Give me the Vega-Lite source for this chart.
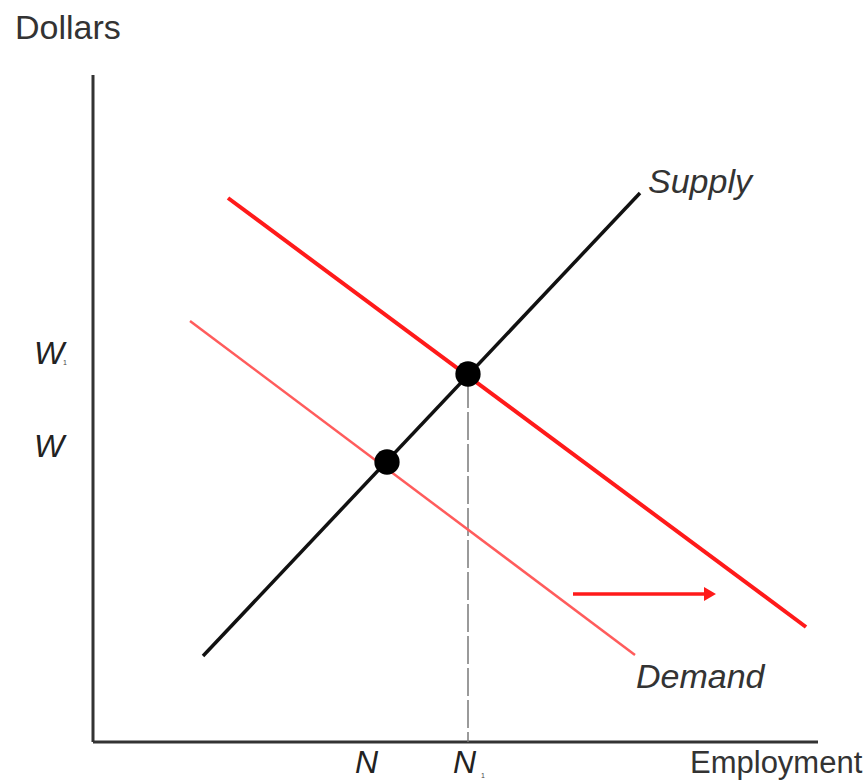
{
  "$schema": "https://vega.github.io/schema/vega-lite/v6.json",
  "width": 868,
  "height": 782,
  "padding": 0,
  "autosize": {"type": "fit", "contains": "padding"},
  "background": "white",
  "config": {"view": {"stroke": null}},
  "encoding": {
    "x": {"field": "x", "type": "quantitative", "scale": {"domain": [0, 868], "nice": false, "zero": false}, "axis": null},
    "y": {"field": "y", "type": "quantitative", "scale": {"domain": [0, 782], "nice": false, "zero": false, "reverse": true}, "axis": null}
  },
  "layer": [
    {
      "data": {"values": [
        {"name": "dollars axis", "x": 93, "y": 75, "x2": 93, "y2": 742},
        {"name": "employment axis", "x": 93, "y": 742, "x2": 818, "y2": 742}
      ]},
      "mark": {"type": "rule", "color": "#333333", "strokeWidth": 3},
      "encoding": {"x2": {"field": "x2"}, "y2": {"field": "y2"}}
    },
    {
      "data": {"values": [
        {"name": "N1 guide", "x": 468, "y": 380, "x2": 468, "y2": 742}
      ]},
      "mark": {"type": "rule", "color": "#7a7a7a", "strokeWidth": 1.5, "strokeDash": [28, 4]},
      "encoding": {"x2": {"field": "x2"}, "y2": {"field": "y2"}}
    },
    {
      "data": {"values": [
        {"name": "Demand", "x": 190, "y": 321, "x2": 635, "y2": 655}
      ]},
      "mark": {"type": "rule", "color": "#ff5c5c", "strokeWidth": 2.5},
      "encoding": {"x2": {"field": "x2"}, "y2": {"field": "y2"}}
    },
    {
      "data": {"values": [
        {"name": "Demand shifted", "x": 228, "y": 198, "x2": 806, "y2": 627}
      ]},
      "mark": {"type": "rule", "color": "#ff1a1a", "strokeWidth": 4},
      "encoding": {"x2": {"field": "x2"}, "y2": {"field": "y2"}}
    },
    {
      "data": {"values": [
        {"name": "Supply", "x": 203, "y": 656, "x2": 640, "y2": 193}
      ]},
      "mark": {"type": "rule", "color": "#111111", "strokeWidth": 3.5},
      "encoding": {"x2": {"field": "x2"}, "y2": {"field": "y2"}}
    },
    {
      "data": {"values": [
        {"name": "shift arrow", "x": 573, "y": 594, "x2": 708, "y2": 594}
      ]},
      "mark": {"type": "rule", "color": "#ff1a1a", "strokeWidth": 3.5},
      "encoding": {"x2": {"field": "x2"}, "y2": {"field": "y2"}}
    },
    {
      "data": {"values": [
        {"name": "arrow head", "x": 710, "y": 594}
      ]},
      "mark": {"type": "point", "shape": "triangle-right", "filled": true, "color": "#ff1a1a", "size": 190, "opacity": 1}
    },
    {
      "data": {"values": [
        {"name": "equilibrium 0", "x": 387, "y": 462},
        {"name": "equilibrium 1", "x": 468, "y": 374}
      ]},
      "mark": {"type": "circle", "color": "#000000", "size": 640, "opacity": 1}
    },
    {
      "data": {"values": [
        {"label": "Dollars", "x": 15, "y": 29}
      ]},
      "mark": {"type": "text", "align": "left", "baseline": "middle", "font": "Liberation Sans", "fontSize": 34, "color": "#333333"},
      "encoding": {"text": {"field": "label"}}
    },
    {
      "data": {"values": [
        {"label": "Employment", "x": 690, "y": 764}
      ]},
      "mark": {"type": "text", "align": "left", "baseline": "middle", "font": "Liberation Sans", "fontSize": 31, "color": "#333333"},
      "encoding": {"text": {"field": "label"}}
    },
    {
      "data": {"values": [
        {"label": "Supply", "x": 648, "y": 183},
        {"label": "Demand", "x": 636, "y": 678}
      ]},
      "mark": {"type": "text", "align": "left", "baseline": "middle", "font": "Liberation Sans", "fontStyle": "italic", "fontSize": 34, "color": "#333333"},
      "encoding": {"text": {"field": "label"}}
    },
    {
      "data": {"values": [
        {"label": "W", "x": 34, "y": 354},
        {"label": "W", "x": 34, "y": 447},
        {"label": "N", "x": 355, "y": 763},
        {"label": "N", "x": 453, "y": 763}
      ]},
      "mark": {"type": "text", "align": "left", "baseline": "middle", "font": "Liberation Sans", "fontStyle": "italic", "fontSize": 32, "color": "#222222"},
      "encoding": {"text": {"field": "label"}}
    },
    {
      "data": {"values": [
        {"label": "1", "x": 65, "y": 363},
        {"label": "1", "x": 483, "y": 776}
      ]},
      "mark": {"type": "text", "align": "center", "baseline": "middle", "font": "Liberation Sans", "fontSize": 7, "color": "#444444"},
      "encoding": {"text": {"field": "label"}}
    }
  ]
}
